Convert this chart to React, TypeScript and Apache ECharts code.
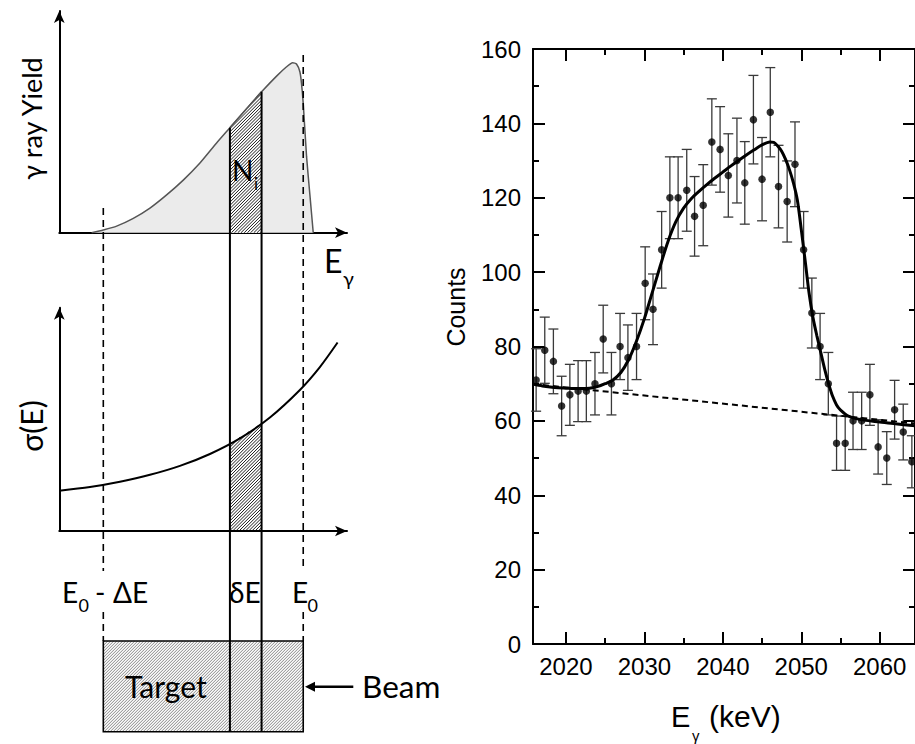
import React, { useEffect, useRef } from "react";
import * as echarts from "echarts";

// ---------------- Right panel: measured spectrum ----------------
const energies = [2016.2, 2017.3, 2018.4, 2019.45, 2020.5, 2021.55, 2022.6, 2023.7, 2024.75, 2025.8, 2026.9, 2027.9, 2029.0, 2030.1, 2031.1, 2032.2, 2033.25, 2034.3, 2035.4, 2036.4, 2037.5, 2038.6, 2039.65, 2040.7, 2041.8, 2042.8, 2043.9, 2045.0, 2046.05, 2047.1, 2048.2, 2049.2, 2050.3, 2051.35, 2052.4, 2053.45, 2054.5, 2055.6, 2056.6, 2057.7, 2058.75, 2059.8, 2060.9, 2061.9, 2063.0, 2064.1];
const counts = [71, 79, 76, 64, 67, 68, 68, 70, 82, 70, 80, 77, 80, 97, 90, 106, 120, 120, 122, 115, 118, 135, 133, 126, 130, 124, 141, 125, 143, 123, 119, 129, 106, 89, 80, 70, 54, 54, 60, 60, 67, 53, 50, 63, 57, 49];
const countErrors = [8.4, 8.9, 8.7, 8.0, 8.2, 8.2, 8.2, 8.4, 9.1, 8.4, 8.9, 8.8, 8.9, 9.8, 9.5, 10.3, 11.0, 11.0, 11.0, 10.7, 10.9, 11.6, 11.5, 11.2, 11.4, 11.1, 11.9, 11.2, 12.0, 11.1, 10.9, 11.4, 10.3, 9.4, 8.9, 8.4, 7.3, 7.3, 7.7, 7.7, 8.2, 7.3, 7.1, 7.9, 7.5, 7.0];

const fitEnergies = [2015.8, 2017, 2018, 2019, 2020, 2021, 2022, 2023, 2024, 2025, 2026, 2027, 2028, 2029, 2030, 2031, 2032, 2033, 2034, 2035, 2036, 2037, 2038, 2039, 2040, 2041, 2042, 2043, 2044, 2045, 2046, 2046.5, 2047.0, 2047.5, 2048.0, 2048.5, 2049.0, 2049.5, 2050.0, 2050.5, 2051.0, 2051.5, 2052.0, 2052.5, 2053.0, 2053.5, 2054.0, 2054.5, 2055.0, 2055.5, 2056.0, 2057.0, 2058.0, 2060.0, 2062.0, 2064.5];
const fitCounts = [69.9, 69.4, 69.1, 68.9, 68.8, 68.7, 68.7, 68.8, 69.2, 70.0, 71.0, 73.0, 76.5, 81.5, 87.5, 94.5, 101.5, 108.2, 113.5, 117.2, 119.8, 121.8, 123.6, 125.3, 126.9, 128.5, 130.0, 131.5, 132.9, 134.2, 135.0, 134.9, 133.9, 132.5, 130.3, 127.5, 124.0, 119.4, 111.5, 103.0, 94.3, 87.7, 82.8, 78.3, 73.8, 69.9, 66.6, 64.3, 62.9, 62.0, 61.3, 60.6, 60.2, 59.7, 59.2, 58.7];

const backgroundEnergies = [2015.8, 2064.5];
const backgroundCounts = [69.9, 59.3];

const xMajorTicks = [2020, 2030, 2040, 2050, 2060];
const xMinorTicks = [2025, 2035, 2045, 2055];

// ---------------- Left panel: schematic curves (arbitrary units) ----------------
const yieldE = [11.02, 14.99, 19.53, 25.21, 30.88, 36.56, 42.23, 47.91, 53.58, 58.12, 63.8, 68.9, 74.01, 77.42, 79.46, 80.8, 81.95, 82.5, 83.09, 84.23, 85.36, 86.5];
const yieldY = [0, 0.012, 0.029, 0.063, 0.108, 0.166, 0.231, 0.306, 0.394, 0.461, 0.545, 0.619, 0.688, 0.729, 0.747, 0.741, 0.707, 0.656, 0.568, 0.334, 0.166, 0];
const sigmaE = [0, 10.45, 20.66, 30.88, 41.09, 51.31, 61.52, 71.74, 81.95, 88.76, 94.79];
const sigmaY = [0.176, 0.192, 0.215, 0.245, 0.284, 0.336, 0.404, 0.495, 0.615, 0.715, 0.822];
const sliceE = [58.12, 68.9]; // δE strip
const targetE = [14.99, 83.09]; // E0 - ΔE ... E0

const ARIAL = "Liberation Sans, Arial, sans-serif";
const CAL = "Lato, Carlito, sans-serif";

function interp(xs: number[], ys: number[], x: number) {
  for (let i = 0; i < xs.length - 1; i++) {
    if (x >= xs[i] && x <= xs[i + 1]) {
      const t = (x - xs[i]) / (xs[i + 1] - xs[i]);
      return ys[i] + t * (ys[i + 1] - ys[i]);
    }
  }
  return ys[ys.length - 1];
}

function hatch(x0: number, x1: number, t0: number, t1: number, bottom: number, step: number, stroke: string, lw: number, z: number) {
  const slope = (t1 - t0) / (x1 - x0);
  const a = t0 - slope * x0;
  const k = 1 + slope;
  const out: any[] = [];
  const cStart = x0 + Math.min(t0, t1);
  const cEnd = x1 + bottom;
  for (let c = cStart + step / 2; c < cEnd; c += step) {
    let lo = Math.max(x0, c - bottom);
    let hi = x1;
    if (Math.abs(k) < 1e-9) {
      if (c - a < 0) continue;
    } else if (k > 0) {
      hi = Math.min(hi, (c - a) / k);
    } else {
      lo = Math.max(lo, (c - a) / k);
    }
    if (hi - lo > 0.2) {
      out.push({ type: "line", silent: true, z, shape: { x1: lo, y1: c - lo, x2: hi, y2: c - hi }, style: { stroke, lineWidth: lw } });
    }
  }
  return out;
}

function txt(text: string, x: number, yMid: number, size: number, family: string, extra: any = {}) {
  return {
    type: "text",
    z: 120,
    silent: true,
    x,
    y: yMid,
    ...extra,
    style: { text, fill: "#000", fontSize: size, fontFamily: family, align: extra.align || "left", verticalAlign: "middle" },
  };
}

function buildOption() {
  const tickLine = { color: "#000", width: 2 };
  const rightX = { min: 2015.8, max: 2064.5, type: "value", gridIndex: 0 };
  const hiddenLabel = { show: false };
  const noSplit = { show: false };
  return {
    animation: false,
    backgroundColor: "#fff",
    grid: [
      { left: 533, top: 49, width: 383, height: 595 },
      { left: 59.3, top: 11, width: 287.7, height: 221.7 },
      { left: 59.3, top: 307.7, width: 287.7, height: 223.3 },
    ],
    xAxis: [
      {
        ...rightX, position: "bottom",
        axisLine: { show: true, onZero: false, lineStyle: tickLine },
        axisTick: { show: true, inside: true, length: 12, lineStyle: tickLine, customValues: xMajorTicks },
        axisLabel: { show: true, customValues: xMajorTicks, formatter: (v: number) => String(v), fontSize: 24, color: "#000", fontFamily: ARIAL, margin: 10 },
        splitLine: noSplit,
      },
      {
        ...rightX, position: "bottom",
        axisLine: { show: false, onZero: false },
        axisTick: { show: true, inside: true, length: 6, lineStyle: tickLine, customValues: xMinorTicks },
        axisLabel: hiddenLabel, splitLine: noSplit,
      },
      {
        ...rightX, position: "top",
        axisLine: { show: true, onZero: false, lineStyle: tickLine },
        axisTick: { show: true, inside: true, length: 12, lineStyle: tickLine, customValues: xMajorTicks },
        axisLabel: hiddenLabel, splitLine: noSplit,
      },
      {
        ...rightX, position: "top",
        axisLine: { show: false, onZero: false },
        axisTick: { show: true, inside: true, length: 6, lineStyle: tickLine, customValues: xMinorTicks },
        axisLabel: hiddenLabel, splitLine: noSplit,
      },
      {
        type: "value", gridIndex: 1, min: 0, max: 98,
        axisLine: { show: true, onZero: false, symbol: ["none", "arrow"], symbolSize: [8, 12], lineStyle: tickLine },
        axisTick: { show: false }, axisLabel: hiddenLabel, splitLine: noSplit,
      },
      {
        type: "value", gridIndex: 2, min: 0, max: 98,
        axisLine: { show: true, onZero: false, symbol: ["none", "arrow"], symbolSize: [8, 12], lineStyle: tickLine },
        axisTick: { show: false }, axisLabel: hiddenLabel, splitLine: noSplit,
      },
    ],
    yAxis: [
      {
        type: "value", gridIndex: 0, min: 0, max: 160, interval: 20, position: "left",
        axisLine: { show: true, onZero: false, lineStyle: tickLine },
        axisTick: { show: true, inside: true, length: 12, lineStyle: tickLine },
        minorTick: { show: true, splitNumber: 2, length: 6, lineStyle: tickLine },
        axisLabel: { fontSize: 24, color: "#000", fontFamily: ARIAL, margin: 12 },
        splitLine: noSplit,
      },
      {
        type: "value", gridIndex: 0, min: 0, max: 160, interval: 20, position: "right",
        axisLine: { show: true, onZero: false, lineStyle: tickLine },
        axisTick: { show: true, inside: true, length: 12, lineStyle: tickLine },
        minorTick: { show: true, splitNumber: 2, length: 6, lineStyle: tickLine },
        axisLabel: hiddenLabel, splitLine: noSplit,
      },
      {
        type: "value", gridIndex: 1, min: 0, max: 0.974,
        axisLine: { show: true, onZero: false, symbol: ["none", "arrow"], symbolSize: [8, 12], lineStyle: tickLine },
        axisTick: { show: false }, axisLabel: hiddenLabel, splitLine: noSplit,
      },
      {
        type: "value", gridIndex: 2, min: 0, max: 0.974,
        axisLine: { show: true, onZero: false, symbol: ["none", "arrow"], symbolSize: [8, 12], lineStyle: tickLine },
        axisTick: { show: false }, axisLabel: hiddenLabel, splitLine: noSplit,
      },
    ],
    series: [
      {
        type: "custom",
        xAxisIndex: 0, yAxisIndex: 0,
        z: 3,
        data: energies.map((e, i) => [e, counts[i], countErrors[i]]),
        renderItem: (params: any, api: any) => {
          const x = api.value(0), y = api.value(1), er = api.value(2);
          const top = api.coord([x, y + er]);
          const bot = api.coord([x, y - er]);
          const hw = 5;
          const st = { stroke: "#3a3a3a", lineWidth: 1.3 };
          return {
            type: "group",
            children: [
              { type: "line", shape: { x1: top[0], y1: top[1], x2: bot[0], y2: bot[1] }, style: st },
              { type: "line", shape: { x1: top[0] - hw, y1: top[1], x2: top[0] + hw, y2: top[1] }, style: st },
              { type: "line", shape: { x1: bot[0] - hw, y1: bot[1], x2: bot[0] + hw, y2: bot[1] }, style: st },
            ],
          };
        },
      },
      {
        type: "scatter",
        xAxisIndex: 0, yAxisIndex: 0,
        z: 5,
        symbol: "circle",
        symbolSize: 7.5,
        itemStyle: { color: "#000" },
        data: energies.map((e, i) => [e, counts[i]]),
      },
      {
        type: "line",
        xAxisIndex: 0, yAxisIndex: 0,
        z: 4,
        symbol: "none",
        lineStyle: { color: "#000", width: 2, type: [6, 4] },
        data: backgroundEnergies.map((e, i) => [e, backgroundCounts[i]]),
      },
      {
        type: "line",
        xAxisIndex: 0, yAxisIndex: 0,
        z: 6,
        symbol: "none",
        smooth: 0.3,
        lineStyle: { color: "#000", width: 3 },
        data: fitEnergies.map((e, i) => [e, fitCounts[i]]),
      },
      {
        type: "line",
        xAxisIndex: 4, yAxisIndex: 2,
        symbol: "none",
        smooth: 0.2,
        lineStyle: { color: "#555", width: 1.5 },
        areaStyle: { color: "#ebebeb", opacity: 1 },
        data: yieldE.map((e, i) => [e, yieldY[i]]),
      },
      {
        type: "line",
        xAxisIndex: 5, yAxisIndex: 3,
        symbol: "none",
        smooth: 0.3,
        lineStyle: { color: "#000", width: 2 },
        data: sigmaE.map((e, i) => [e, sigmaY[i]]),
      },
    ],
  };
}

function buildGraphic(chart: any) {
  const px = (s: number, e: number, v: number) => chart.convertToPixel({ seriesIndex: s }, [e, v]) as number[];
  const YIELD = 4, SIGMA = 5;
  const xL = px(YIELD, targetE[0], 0)[0];
  const xR = px(YIELD, targetE[1], 0)[0];
  const xs0 = px(YIELD, sliceE[0], 0)[0];
  const xs1 = px(YIELD, sliceE[1], 0)[0];
  const yieldBase = px(YIELD, 0, 0)[1];
  const sigmaBase = px(SIGMA, 0, 0)[1];
  const yt0 = px(YIELD, sliceE[0], interp(yieldE, yieldY, sliceE[0]))[1];
  const yt1 = px(YIELD, sliceE[1], interp(yieldE, yieldY, sliceE[1]))[1];
  const st0 = px(SIGMA, sliceE[0], interp(sigmaE, sigmaY, sliceE[0]))[1];
  const st1 = px(SIGMA, sliceE[1], interp(sigmaE, sigmaY, sliceE[1]))[1];
  const TT = 641, TB = 731.7;
  const els: any[] = [];

  // strip in yield panel
  els.push({ type: "polygon", z: 100, silent: true, shape: { points: [[xs0, yt0], [xs1, yt1], [xs1, yieldBase], [xs0, yieldBase]] }, style: { fill: "#fff" } });
  els.push(...hatch(xs0, xs1, yt0, yt1, yieldBase, 3.2, "#000", 0.9, 101));
  els.push({ type: "line", z: 102, silent: true, shape: { x1: xs0, y1: yt0, x2: xs1, y2: yt1 }, style: { stroke: "#555", lineWidth: 1.5 } });
  // strip in sigma panel
  els.push(...hatch(xs0, xs1, st0, st1, sigmaBase, 3.2, "#000", 0.9, 101));
  // target
  els.push({ type: "rect", z: 99, silent: true, shape: { x: xL, y: TT, width: xR - xL, height: TB - TT }, style: { fill: "#fafafa" } });
  els.push(...hatch(xL, xR, TT, TT, TB, 3.0, "#7d7d7d", 0.9, 100));
  els.push({ type: "rect", z: 103, silent: true, shape: { x: xL, y: TT, width: xR - xL, height: TB - TT }, style: { fill: "none", stroke: "#000", lineWidth: 1.6 } });
  // solid verticals
  els.push({ type: "line", z: 104, silent: true, shape: { x1: xs0, y1: yt0, x2: xs0, y2: TB }, style: { stroke: "#000", lineWidth: 2 } });
  els.push({ type: "line", z: 104, silent: true, shape: { x1: xs1, y1: yt1, x2: xs1, y2: TB }, style: { stroke: "#000", lineWidth: 2 } });
  // dashed verticals
  const dash = { stroke: "#000", lineWidth: 1.6, lineDash: [7, 5] };
  els.push({ type: "line", z: 104, silent: true, shape: { x1: xL, y1: 208, x2: xL, y2: 571 }, style: dash });
  els.push({ type: "line", z: 104, silent: true, shape: { x1: xL, y1: 612, x2: xL, y2: TT }, style: dash });
  els.push({ type: "line", z: 104, silent: true, shape: { x1: xR, y1: 55, x2: xR, y2: 571 }, style: dash });
  els.push({ type: "line", z: 104, silent: true, shape: { x1: xR, y1: 612, x2: xR, y2: TT }, style: dash });
  // beam arrow
  els.push({ type: "line", z: 104, silent: true, shape: { x1: 353.3, y1: 686.7, x2: 312, y2: 686.7 }, style: { stroke: "#000", lineWidth: 2.5 } });
  els.push({ type: "polygon", z: 104, silent: true, shape: { points: [[305, 686.7], [315, 681.7], [315, 691.7]] }, style: { fill: "#000" } });

  // texts: left
  els.push(txt("γ ray Yield", 31.7, 118.5, 27, CAL, { rotation: Math.PI / 2, align: "center" }));
  els.push(txt("σ(E)", 31, 426, 30, CAL, { rotation: Math.PI / 2, align: "center" }));
  els.push(txt("E", 324, 260.5, 32, CAL));
  els.push(txt("γ", 343, 278, 20, CAL));
  els.push(txt("N", 232, 170, 28, CAL));
  els.push(txt("i", 254, 183, 17, CAL));
  els.push(txt("E", 62, 591.5, 28, CAL));
  els.push(txt("0", 78.5, 605, 18, CAL));
  els.push(txt("-", 95, 591.5, 28, CAL));
  els.push(txt("ΔE", 113, 591.5, 28, CAL));
  els.push(txt("δE", 229, 591.5, 28, CAL));
  els.push(txt("E", 292, 591.5, 28, CAL));
  els.push(txt("0", 307.5, 605, 18, CAL));
  els.push(txt("Target", 125, 686, 30, CAL));
  els.push(txt("Beam", 362, 686, 31.5, CAL));

  // texts: right
  els.push(txt("Counts", 456, 307, 25, ARIAL, { rotation: Math.PI / 2, align: "center" }));
  els.push(txt("E", 671, 716.5, 29, ARIAL));
  els.push(txt("γ", 692, 735, 15, ARIAL));
  els.push(txt("(keV)", 709, 716.5, 30, ARIAL));
  return els;
}

export default function App() {
  const ref = useRef<HTMLDivElement>(null);
  useEffect(() => {
    const chart = echarts.init(ref.current!, null, { renderer: "svg" });
    chart.setOption(buildOption() as any);
    chart.setOption({ graphic: buildGraphic(chart) } as any);
    return () => chart.dispose();
  }, []);
  return <div ref={ref} style={{ position: "fixed", left: 0, top: 0, width: 915, height: 744, background: "#fff" }} />;
}
